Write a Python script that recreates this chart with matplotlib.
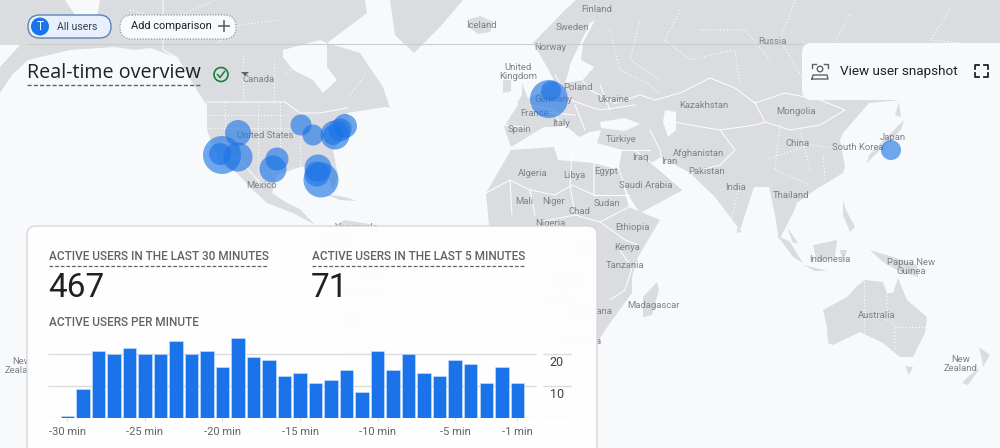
import matplotlib
matplotlib.use("Agg")
from matplotlib import pyplot as plt
from matplotlib.patches import FancyBboxPatch, Polygon, Circle

# chart data
minutes = list(range(-30, 0))
users_per_minute = [0.5, 9, 21, 20, 22, 20, 20, 24, 20, 21, 16, 25, 19, 18, 13,
                    14, 11, 12, 15, 8, 21, 15, 20, 14, 13, 18, 17, 11, 16, 11]
tick_minutes = [-30, -25, -20, -15, -10, -5, -1]
tick_labels = ['-30 min', '-25 min', '-20 min', '-15 min', '-10 min', '-5 min', '-1 min']
y_values = [10, 20]

# bubbles on the map (pixel position, radius)
bubble_x = [222, 220, 238, 238, 273, 277, 301, 313, 335, 340, 345, 333, 318, 317, 321, 549, 551, 891]
bubble_y = [155, 154, 157, 133, 169, 159, 125, 135, 135, 130, 126, 135, 168, 174, 180, 99, 91, 150]
bubble_r = [19, 11, 14.5, 13, 13.5, 11.5, 10.5, 10.5, 14.5, 11.5, 12, 10, 13.5, 12.5, 17.5, 19, 10, 10]

# map outlines, traced roughly
north_america = [(0, 93), (12, 75), (28, 60), (70, 50), (115, 47), (135, 50), (150, 48), (178, 58),
                 (200, 95), (207, 105), (207, 130), (220, 165), (237, 173), (253, 190), (267, 203), (293, 213),
                 (315, 225), (300, 209), (287, 203), (272, 193), (277, 175), (300, 167), (325, 165),
                 (333, 190), (338, 175), (333, 150), (353, 127), (347, 113), (385, 107), (390, 108),
                 (383, 87), (360, 53), (327, 43), (367, 13), (365, 0), (100, 0), (97, 18), (75, 15), (65, 0), (0, 0)]
hudson_bay = [(283, 50), (320, 40), (327, 43), (327, 67), (337, 80), (323, 93), (313, 80), (293, 70), (283, 57)]
bering_gap = [(0, 45), (20, 45), (0, 67)]
greenland = [(390, 0), (395, 35), (414, 53), (440, 27), (463, 0)]
iceland = [(467, 20), (480, 16), (494, 22), (490, 32), (478, 34), (470, 28)]
eurasia = [(576, 0), (1000, 0), (1000, 27), (1000, 100), (901, 100), (869, 103), (843, 133), (840, 140),
           (845, 167), (843, 173), (815, 190), (797, 203), (793, 213), (779, 240), (775, 215), (769, 187),
           (754, 187), (740, 230), (715, 197), (690, 173), (661, 157), (651, 163), (683, 190), (640, 213),
           (627, 193), (619, 167), (622, 150), (597, 143), (601, 130), (590, 132), (579, 137), (565, 125),
           (554, 127), (544, 127), (511, 147), (504, 127), (519, 103), (544, 90), (554, 80), (547, 67),
           (533, 43), (565, 10)]
baltic = [(590, 23), (595, 20), (583, 43), (581, 60), (594, 67), (583, 80), (565, 83), (572, 60)]
black_sea = [(600, 122), (625, 118), (640, 124), (625, 131), (601, 128)]
caspian = [(665, 110), (676, 112), (676, 130), (668, 137), (663, 122)]
uk = [(522, 83), (531, 107), (517, 103), (522, 95)]
ireland = [(503, 80), (511, 80), (511, 91), (503, 93)]
africa = [(486, 193), (511, 150), (554, 147), (558, 160), (594, 163), (619, 170), (629, 207), (660, 220),
          (638, 257), (632, 277), (632, 293), (610, 323), (597, 343), (575, 350), (560, 330), (540, 265),
          (530, 240), (490, 235)]
south_america = [(322, 232), (345, 220), (375, 225), (425, 262), (415, 305), (385, 340), (360, 400), (345, 370), (345, 300), (320, 265)]
madagascar = [(657, 282), (659, 290), (652, 315), (643, 317), (643, 297)]
australia = [(823, 310), (847, 297), (857, 286), (865, 280), (883, 282), (887, 293), (893, 293), (898, 278),
             (907, 300), (927, 317), (925, 333), (913, 357), (900, 357), (883, 343), (860, 332), (833, 345),
             (828, 343), (827, 327)]
islands = [[(905, 366), (913, 367), (909, 375)],
           [(979, 347), (990, 355), (983, 367), (982, 360)],
           [(980, 368), (968, 385), (962, 383), (970, 375)],
           [(870, 250), (893, 257), (917, 265), (918, 277), (897, 270), (883, 262)],
           [(777, 235), (790, 242), (803, 263), (793, 257)],
           [(803, 265), (828, 271), (815, 271)],
           [(813, 245), (837, 240), (835, 257), (817, 262)],
           [(840, 250), (847, 250), (843, 263)],
           [(843, 200), (846, 210), (855, 227), (850, 232), (843, 215)],
           [(737, 227), (742, 232), (737, 233)],
           [(787, 227), (798, 243), (793, 243)],
           [(894, 130), (904, 120), (901, 130), (883, 147), (867, 163), (869, 155)],
           [(899, 102), (901, 117), (895, 115)],
           [(325, 194), (345, 197), (357, 201), (340, 200)]]

solid_borders = [[(163, 0), (163, 50), (178, 58)], [(207, 102), (285, 102), (300, 113), (320, 113), (347, 108)],
                 [(207, 150), (240, 160), (262, 185)],
                 [(615, 103), (640, 95), (655, 100), (680, 93), (710, 78), (735, 88), (755, 103), (785, 93), (820, 100), (845, 110), (820, 125), (790, 130), (765, 122), (755, 103)],
                 [(665, 120), (690, 125), (720, 130), (755, 125), (765, 122)], [(720, 130), (735, 150), (720, 165), (690, 173)],
                 [(650, 130), (660, 150), (661, 157)], [(620, 150), (650, 150)], [(635, 150), (660, 170), (683, 190)],
                 [(486, 193), (510, 180), (530, 190), (555, 195), (572, 185), (594, 195), (594, 163)],
                 [(572, 150), (570, 185), (575, 215), (600, 222), (629, 207)], [(594, 195), (629, 195)],
                 [(510, 180), (512, 215)], [(530, 190), (535, 215)], [(575, 215), (540, 222)], [(600, 222), (625, 240), (638, 245)],
                 [(620, 250), (632, 268), (625, 290), (610, 300)],
                 [(530, 105), (555, 110), (560, 125)], [(555, 75), (570, 100), (600, 110), (635, 105)], [(570, 65), (590, 90), (615, 103)],
                 [(575, 105), (585, 130)], [(600, 85), (610, 110)], [(505, 125), (530, 128)], [(545, 112), (575, 115)]]
dotted_borders = [[(207, 115), (290, 115)], [(207, 128), (300, 128)], [(225, 102), (225, 160)], [(258, 102), (258, 185)],
                  [(280, 102), (280, 170)], [(300, 130), (300, 165)], [(243, 55), (243, 102)], [(274, 60), (274, 102)],
                  [(285, 75), (300, 62)], [(215, 45), (240, 25), (280, 20)], [(365, 75), (350, 95)], [(130, 10), (170, 20), (215, 0)],
                  [(610, 30), (620, 70), (650, 85), (660, 95)], [(680, 10), (665, 40), (690, 60), (710, 55), (735, 50), (740, 85)],
                  [(795, 0), (780, 40), (810, 90)], [(950, 10), (930, 40), (960, 43)],
                  [(640, 20), (630, 60), (660, 80)], [(700, 30), (745, 30), (770, 60)], [(850, 15), (830, 50), (860, 100)],
                  [(765, 160), (810, 145), (850, 150)], [(780, 125), (775, 170), (810, 185)], [(720, 190), (740, 185), (730, 225)],
                  [(823, 155), (825, 180)], [(800, 130), (810, 170)], [(864, 282), (864, 333)],
                  [(887, 293), (887, 320), (895, 325), (895, 352)], [(895, 327), (926, 327)]]

# labels on the map
map_labels = [('Iceland', 481, 25), ('Finland', 597, 9), ('Sweden', 572, 28), ('Norway', 550, 48),
              ('United\nKingdom', 518, 72), ('Poland', 578, 87), ('Germany', 553, 100), ('France', 535, 114),
              ('Italy', 561, 124), ('Spain', 519, 129), ('Ukraine', 613, 100), ('Kazakhstan', 704, 105),
              ('Russia', 772, 42), ('Mongolia', 796, 111), ('Türkiye', 621, 139), ('Iraq', 640, 158),
              ('Iran', 669, 162), ('Afghanistan', 699, 154), ('Pakistan', 707, 171), ('China', 798, 144),
              ('South Korea', 858, 148), ('Japan', 893, 138), ('India', 735, 188), ('Thailand', 791, 196),
              ('Saudi Arabia', 646, 186), ('Egypt', 606, 172), ('Libya', 574, 176), ('Algeria', 533, 173),
              ('Mali', 524, 202), ('Niger', 554, 202), ('Chad', 579, 212), ('Sudan', 607, 204),
              ('Nigeria', 550, 224), ('Ethiopia', 632, 227), ('Kenya', 627, 247), ('Tanzania', 625, 265),
              ('Madagascar', 653, 305), ('Botswana', 591, 311), ('South Africa', 575, 341), ('Angola', 569, 281),
              ('Namibia', 555, 300), ('DRC', 585, 252), ('Indonesia', 830, 259), ('Papua New\nGuinea', 911, 267),
              ('Australia', 877, 316), ('New\nZealand', 961, 364), ('New\nZealand', 22, 366), ('Canada', 259, 79),
              ('United States', 265, 136), ('Mexico', 262, 185), ('Venezuela', 357, 228), ('Colombia', 332, 239),
              ('Brazil', 372, 271), ('Bolivia', 364, 293), ('Chile', 346, 321)]

BLUE = '#1a73e8'
LAND = '#dadce0'
SEA = '#f8f9fa'
LABEL = '#7d8287'
DARK = '#202124'
GREY = '#5f6368'

plt.rcParams['font.family'] = ['Roboto', 'DejaVu Sans']

fig = plt.figure(figsize=(10, 4.48), dpi=100, facecolor=SEA)
ax = fig.add_axes([0, 0, 1, 1])
ax.set_xlim(0, 1000)
ax.set_ylim(448, 0)
ax.axis('off')

# land and water
for shape in [north_america, greenland, iceland, eurasia, uk, ireland, africa, south_america,
              madagascar, australia] + islands:
    ax.add_patch(Polygon(shape, closed=True, fc=LAND, ec='none', zorder=1))
for shape in [hudson_bay, bering_gap, baltic, black_sea, caspian]:
    ax.add_patch(Polygon(shape, closed=True, fc=SEA, ec='none', zorder=1.1))
for line in solid_borders:
    ax.plot(*zip(*line), color='white', lw=0.7, zorder=1.2)
for line in dotted_borders:
    ax.plot(*zip(*line), color='white', lw=0.8, ls=(0, (1, 2)), zorder=1.2)
for name, x, y in map_labels:
    ax.text(x, y, name, fontsize=6.8, color=LABEL, ha='center', va='center', linespacing=1.0, zorder=1.5)

# user bubbles
ax.scatter(bubble_x, bubble_y, s=[(2 * r * 0.72) ** 2 for r in bubble_r], color=BLUE, alpha=0.62,
           linewidths=0, zorder=2)

# top bar
ax.plot([27, 802], [44, 44], color='#c9cbcf', lw=0.8, zorder=3)
ax.add_patch(FancyBboxPatch((28, 15), 83, 23, boxstyle='round,pad=0,rounding_size=11.5', fc='#e8f0fe',
                            ec='#5b85b5', lw=1, zorder=3))
ax.add_patch(Circle((40, 26.5), 9, fc=BLUE, ec='none', zorder=4))
ax.text(40, 26.5, 'T', color='white', fontsize=8.5, ha='center', va='center', zorder=5)
ax.text(57, 27, 'All users', color='#3c4043', fontsize=7.6, va='center', zorder=5)
ax.add_patch(FancyBboxPatch((120, 15), 116, 24, boxstyle='round,pad=0,rounding_size=12', fc=SEA,
                            ec='#80868b', lw=0.8, ls=(0, (1, 1.5)), zorder=3))
ax.text(131, 26, 'Add comparison', color=DARK, fontsize=7.9, va='center', zorder=5)
ax.plot([219, 229], [26, 26], color=GREY, lw=1.2, zorder=5)
ax.plot([224, 224], [21, 31], color=GREY, lw=1.2, zorder=5)

# title
ax.text(27, 72.5, 'Real-time overview', color=DARK, fontsize=14.2, va='center', family='Open Sans', zorder=5)
ax.plot([27, 201], [85, 85], color=GREY, lw=1, ls=(0, (3, 1.5)), zorder=5)
ax.add_patch(Circle((221, 74.5), 7, fc='none', ec='#188038', lw=1.2, zorder=5))
ax.plot([217.5, 220, 224.5], [74.5, 77.5, 71.5], color='#188038', lw=1.1, zorder=5)
ax.add_patch(Polygon([(241, 72), (249, 72), (245, 76)], fc=GREY, ec='none', zorder=5))

# snapshot panel
ax.add_patch(FancyBboxPatch((802, 43), 230, 57, boxstyle='round,pad=0,rounding_size=10', fc=SEA, ec='none', zorder=3))
ax.text(840, 71.5, 'View user snapshot', color=DARK, fontsize=9.7, va='center', zorder=5)
ax.add_patch(Circle((820, 69), 2.8, fc='none', ec=GREY, lw=1, zorder=5))
ax.plot([812, 813, 827, 828, 812], [79, 75, 75, 79, 79], color=GREY, lw=1, zorder=5)
for x0, dx in [(812, 1), (828, -1)]:
    ax.plot([x0 + 4 * dx, x0, x0], [64, 64, 68], color=GREY, lw=1, zorder=5)
for x0, dx in [(975, 1), (988, -1)]:
    ax.plot([x0 + 4 * dx, x0, x0], [65, 65, 69], color=DARK, lw=1.3, zorder=5)
    ax.plot([x0 + 4 * dx, x0, x0], [77, 77, 73], color=DARK, lw=1.3, zorder=5)

# card
ax.add_patch(FancyBboxPatch((27, 226), 570, 260, boxstyle='round,pad=0,rounding_size=9', fc='white',
                            ec='#d5d7db', lw=1, alpha=0.97, zorder=6))
ax.text(49, 257, 'ACTIVE USERS IN THE LAST 30 MINUTES', color=GREY, fontsize=8.5, weight='medium', va='center', zorder=7)
ax.text(312, 257, 'ACTIVE USERS IN THE LAST 5 MINUTES', color=GREY, fontsize=8.5, weight='medium', va='center', zorder=7)
ax.plot([49, 268], [266, 266], color=GREY, lw=0.9, ls=(0, (3, 1.5)), zorder=7)
ax.plot([312, 525], [266, 266], color=GREY, lw=0.9, ls=(0, (3, 1.5)), zorder=7)
ax.text(48, 288, '467', color=DARK, fontsize=24, va='center', zorder=7)
ax.text(311, 288, '71', color=DARK, fontsize=24, va='center', zorder=7)
ax.text(49, 323, 'ACTIVE USERS PER MINUTE', color=GREY, fontsize=8.5, weight='medium', va='center', zorder=7)

# bar chart inset, 48..572 px wide, 330..418 px tall
bar_ax = fig.add_axes([48 / 1000, (448 - 418) / 448, 524 / 1000, 88 / 448])
bar_ax.patch.set_alpha(0)
bar_ax.set_xlim(-31.244, 2.526)
bar_ax.set_ylim(0, 27.5)
bar_ax.bar(minutes, users_per_minute, width=0.87, color=BLUE, edgecolor='#cfe2fb', linewidth=0.4, zorder=3)
for v in [0] + y_values:
    bar_ax.hlines(v, -31.244, 0.2, color='#dadce0', lw=1, zorder=1)
    bar_ax.hlines(v, 0.66, 2.526, color='#dadce0', lw=1, zorder=1)
for v in y_values:
    bar_ax.text(1.55, v - 2.6, str(v), color='#3c4043', fontsize=9, ha='center', va='center')
for side in bar_ax.spines.values():
    side.set_visible(False)
bar_ax.set_yticks([])
bar_ax.set_xticks(tick_minutes)
bar_ax.set_xticklabels(tick_labels, fontsize=8, color=GREY)
bar_ax.tick_params(axis='x', length=2.5, width=0.8, color='#dadce0', pad=4)

fig.savefig('out.png', dpi=100, facecolor=SEA)
